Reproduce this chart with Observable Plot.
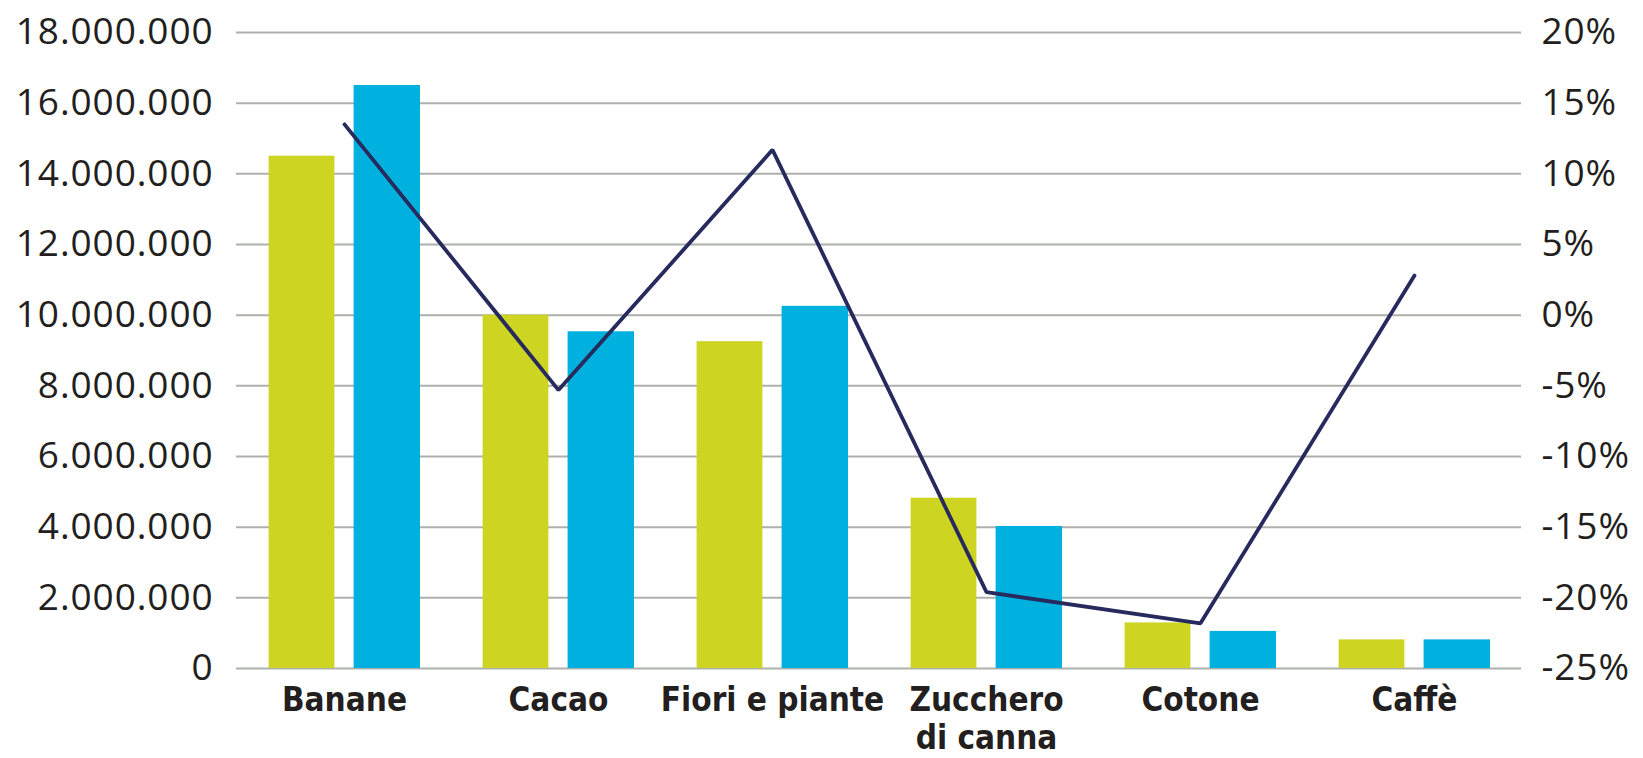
<!DOCTYPE html>
<html><head><meta charset="utf-8">
<script src="https://cdn.jsdelivr.net/npm/d3@7"></script>
<script src="https://cdn.jsdelivr.net/npm/@observablehq/plot@0.6"></script>
<style>
html,body{margin:0;padding:0;background:#fff} svg{display:block}
g[aria-label="y-axis tick label"] text{letter-spacing:0.9px}
</style>
</head><body><div id="chart"></div>
<script>
// Data
const categories = ["Banane", "Cacao", "Fiori e piante", "Zucchero\ndi canna", "Cotone", "Caffè"];
const seriesGreen = [14500000, 10000000, 9250000, 4820000, 1290000, 810000];
const seriesBlue  = [16500000, 9530000, 10250000, 4020000, 1050000, 810000];
const pctChange   = [13.5, -5.3, 11.7, -19.6, -21.8, 2.8];
const leftTicks  = [0, 2000000, 4000000, 6000000, 8000000, 10000000, 12000000, 14000000, 16000000, 18000000];
const rightTicks = [-25, -20, -15, -10, -5, 0, 5, 10, 15, 20];

const yMax = 18000000, pMin = -25, pMax = 20;
const pctToY = p => (p - pMin) / (pMax - pMin) * yMax;
const yToPct = v => Math.round(v / yMax * (pMax - pMin) + pMin);

const itFormat = d3.formatLocale({decimal: ",", thousands: ".", grouping: [3], currency: ["€", ""]}).format(",");

const green = categories.map((c, i) => ({cat: c, value: seriesGreen[i]}));
const blue = categories.map((c, i) => ({cat: c, value: seriesBlue[i]}));
const line = categories.map((c, i) => ({cat: c, y: pctToY(pctChange[i])}));

const chart = Plot.plot({
  width: 1643,
  height: 758,
  marginLeft: 236,
  marginRight: 122,
  marginTop: 32,
  marginBottom: 90,
  style: {fontFamily: "'Open Sans', sans-serif", color: "#231f20", background: "#fff"},
  x: {domain: categories, padding: 0, label: null},
  y: {domain: [0, yMax], label: null},
  marks: [
    Plot.gridY(leftTicks, {stroke: "#aeb1ab", strokeOpacity: 1, strokeWidth: 2}),
    Plot.barY(green, {x: "cat", y: "value", fill: "#cdd422", insetLeft: 31.6, insetRight: 116.6}),
    Plot.barY(blue, {x: "cat", y: "value", fill: "#00b0de", insetLeft: 116.6, insetRight: 31}),
    Plot.line(line, {x: "cat", y: "y", stroke: "#262a5c", strokeWidth: 3.8, strokeLinejoin: "miter"}),
    Plot.axisY({ticks: leftTicks, tickFormat: itFormat, tickSize: 0, tickPadding: 23, fontSize: 37, label: null}),
    Plot.axisY({anchor: "right", ticks: rightTicks.map(pctToY), tickFormat: v => yToPct(v) + "%", tickSize: 0, tickPadding: 20, fontSize: 37, label: null}),
    Plot.axisX({tickSize: 0, tickPadding: 16, fontSize: 33, fontWeight: "bold", fontFamily: "'DejaVu Sans Condensed', 'DejaVu Sans', sans-serif", lineHeight: 1.15, label: null})
  ]
});
document.getElementById("chart").appendChild(chart);
</script>
</body></html>
